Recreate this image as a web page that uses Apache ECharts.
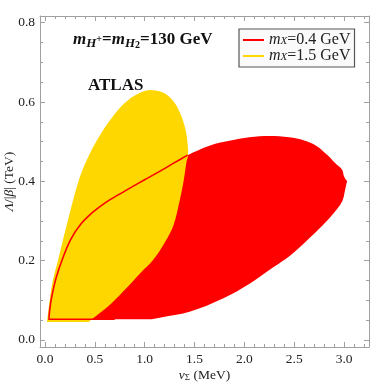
<!DOCTYPE html>
<html>
<head>
<meta charset="utf-8">
<script src="https://cdn.jsdelivr.net/npm/echarts@6/dist/echarts.min.js"></script>
<style>
  html, body { margin: 0; padding: 0; background: #fff; }
  #chart { width: 371px; height: 383px; }
</style>
</head>
<body>
<div id="chart"></div>
<script>
// region for m_X = 0.4 GeV (red), traced [v_Sigma, Lambda/|beta|]
// repeated points mark the sharp corners
const redRegion = [
  [0.04, 0.052], [0.04, 0.052], [1.07, 0.052], [1.07, 0.052], [1.15, 0.056], [1.45, 0.071],
  [1.79, 0.105], [2.06, 0.143], [2.29, 0.183], [2.46, 0.213], [2.62, 0.249], [2.75, 0.280],
  [2.88, 0.315], [2.98, 0.349], [3.01, 0.378], [3.03, 0.400], [3.03, 0.400], [3.00, 0.412],
  [2.98, 0.429], [2.91, 0.446], [2.83, 0.467], [2.72, 0.490], [2.60, 0.503],
  [2.45, 0.511], [2.25, 0.514], [2.05, 0.511], [1.85, 0.502], [1.65, 0.490],
  [1.43, 0.466], [1.30, 0.447], [1.15, 0.425], [1.00, 0.404], [0.86, 0.384],
  [0.73, 0.365], [0.60, 0.345], [0.48, 0.322], [0.36, 0.292], [0.26, 0.254],
  [0.18, 0.207], [0.11, 0.155], [0.065, 0.105], [0.045, 0.070]
];

// outline of the red region drawn on top of the yellow one
const redEdge = [
  [1.43, 0.466], [1.30, 0.447], [1.15, 0.425], [1.00, 0.404], [0.86, 0.384],
  [0.73, 0.365], [0.60, 0.345], [0.48, 0.322], [0.36, 0.292], [0.26, 0.254],
  [0.18, 0.207], [0.11, 0.155], [0.065, 0.105], [0.045, 0.070], [0.04, 0.052],
  [0.04, 0.052], [0.70, 0.052], [0.70, 0.052]
];

// region for m_X = 1.5 GeV (yellow)
const yellowRegion = [
  [0.02, 0.045], [0.02, 0.045], [0.047, 0.100], [0.08, 0.151], [0.13, 0.200], [0.18, 0.252],
  [0.23, 0.302], [0.29, 0.360], [0.36, 0.418], [0.46, 0.475], [0.565, 0.522],
  [0.70, 0.570], [0.83, 0.604], [0.97, 0.625], [1.07, 0.630], [1.20, 0.622],
  [1.30, 0.598], [1.37, 0.563], [1.41, 0.530], [1.43, 0.496], [1.435, 0.466],
  [1.42, 0.450], [1.39, 0.400], [1.35, 0.350], [1.29, 0.290], [1.20, 0.245],
  [1.08, 0.200], [0.97, 0.172], [0.83, 0.134], [0.665, 0.092], [0.46, 0.050],
  [0.44, 0.045], [0.44, 0.045]
];

const legendNames = ['mX=0.4 GeV', 'mX=1.5 GeV'];
const xMajor = [0, 0.5, 1.0, 1.5, 2.0, 2.5, 3.0];
const xMinor = [0.1, 0.2, 0.3, 0.4, 0.6, 0.7, 0.8, 0.9, 1.1, 1.2, 1.3, 1.4, 1.6, 1.7, 1.8, 1.9,
  2.1, 2.2, 2.3, 2.4, 2.6, 2.7, 2.8, 2.9, 3.1, 3.2];
const yMajor = [0, 0.2, 0.4, 0.6, 0.8];
const yMinor = [0.05, 0.1, 0.15, 0.25, 0.3, 0.35, 0.45, 0.5, 0.55, 0.65, 0.7, 0.75];

const RED = '#ff0000';
const YELLOW = '#ffd700';
const FRAME = '#a0a0a0';
const SERIF = '"Liberation Serif", "DejaVu Serif", serif';

const xRange = { min: -0.05, max: 3.25 };
const yRange = { min: -0.018, max: 0.817 };

function shapeSeries(name, shapeType, points, color, z) {
  return {
    name: name,
    type: 'custom',
    z: z,
    silent: true,
    itemStyle: { color: color },
    data: [0],
    renderItem: function (params, api) {
      const pts = points.map(p => api.coord(p));
      if (shapeType === 'polygon') {
        return { type: 'polygon', shape: { points: pts, smooth: 0.35 }, style: { fill: color } };
      }
      return {
        type: 'polyline', shape: { points: pts, smooth: 0.35 },
        style: { stroke: color, lineWidth: 1.6, fill: null }
      };
    }
  };
}

function xAx(pos, ticks, len, labels) {
  return {
    type: 'value', position: pos, ...xRange,
    splitLine: { show: false },
    axisLine: { show: labels, onZero: false, lineStyle: { color: FRAME, width: 1 } },
    axisTick: { show: true, inside: true, length: len, customValues: ticks, lineStyle: { color: FRAME } },
    axisLabel: labels ? {
      customValues: ticks, margin: 5, color: '#222', fontFamily: SERIF, fontSize: 13.5,
      formatter: v => v.toFixed(1)
    } : { show: false }
  };
}

function yAx(pos, ticks, len, labels) {
  return {
    type: 'value', position: pos, ...yRange,
    splitLine: { show: false },
    axisLine: { show: labels, onZero: false, lineStyle: { color: FRAME, width: 1 } },
    axisTick: { show: true, inside: true, length: len, customValues: ticks, lineStyle: { color: FRAME } },
    axisLabel: labels ? {
      customValues: ticks, margin: 5, color: '#222', fontFamily: SERIF, fontSize: 13.5,
      formatter: v => v.toFixed(1)
    } : { show: false }
  };
}

const bottomX = xAx('bottom', xMajor, 5, true);
bottomX.name = '{i|v}{s|Σ} (MeV)';
bottomX.nameLocation = 'middle';
bottomX.nameGap = 21;
bottomX.nameMoveOverlap = false;
bottomX.nameTextStyle = {
  color: '#222', fontFamily: SERIF, fontSize: 13.5,
  rich: {
    i: { fontFamily: SERIF, fontStyle: 'italic', fontSize: 13.5, color: '#222' },
    s: { fontFamily: SERIF, fontSize: 9, color: '#222', verticalAlign: 'bottom', lineHeight: 10 }
  }
};
const topX = xAx('top', xMajor, 5, true);
topX.axisLabel = { show: false };

const leftY = yAx('left', yMajor, 5, true);
leftY.name = '{i|Λ}/|{i|β}| (TeV)';
leftY.nameLocation = 'middle';
leftY.nameGap = 24;
leftY.nameMoveOverlap = false;
leftY.nameTextStyle = {
  color: '#222', fontFamily: SERIF, fontSize: 13.5,
  rich: { i: { fontFamily: SERIF, fontStyle: 'italic', fontSize: 13.5, color: '#222' } }
};
const rightY = yAx('right', yMajor, 5, true);
rightY.axisLabel = { show: false };

const option = {
  animation: false,
  backgroundColor: '#fff',
  grid: { left: 40, top: 16, right: 2, bottom: 36, containLabel: false, outerBoundsMode: 'none' },
  xAxis: [bottomX, xAx('bottom', xMinor, 3, false), topX, xAx('top', xMinor, 3, false)],
  yAxis: [leftY, yAx('left', yMinor, 3, false), rightY, yAx('right', yMinor, 3, false)],
  legend: {
    left: 239, top: 29,
    orient: 'vertical',
    padding: [3, 4, 3, 4],
    itemGap: 0,
    itemWidth: 21, itemHeight: 2,
    icon: 'rect',
    backgroundColor: '#fafafa',
    borderColor: '#555', borderWidth: 1.2,
    selectedMode: false,
    data: [
      { name: legendNames[0], itemStyle: { color: RED } },
      { name: legendNames[1], itemStyle: { color: YELLOW } }
    ],
    formatter: name => '{i|m}{s|X}{t|' + name.slice(2) + '}',
    textStyle: {
      fontFamily: SERIF, fontSize: 16, color: '#222', lineHeight: 14,
      rich: {
        i: { fontFamily: SERIF, fontStyle: 'italic', fontSize: 16, color: '#222', lineHeight: 14 },
        s: { fontFamily: SERIF, fontStyle: 'italic', fontSize: 11, color: '#222', lineHeight: 9, verticalAlign: 'bottom' },
        t: { fontFamily: SERIF, fontSize: 16, color: '#222', lineHeight: 14 }
      }
    }
  },
  graphic: [
    {
      type: 'text', left: 73, top: 31, z: 10,
      style: {
        text: '{m|m}{s|H}{p|+}{n|=}{m|m}{s|H}{q|2}{n|=130 GeV}',
        fontFamily: SERIF, fontWeight: 'bold', fontSize: 17, fill: '#111',
        rich: {
          m: { fontFamily: SERIF, fontWeight: 'bold', fontStyle: 'italic', fontSize: 17, lineHeight: 21, color: '#111' },
          n: { fontFamily: SERIF, fontWeight: 'bold', fontSize: 17, lineHeight: 21, color: '#111' },
          s: { fontFamily: SERIF, fontWeight: 'bold', fontStyle: 'italic', fontSize: 13, lineHeight: 14, verticalAlign: 'bottom', color: '#111' },
          p: { fontFamily: SERIF, fontWeight: 'bold', fontSize: 10, lineHeight: 21, color: '#111' },
          q: { fontFamily: SERIF, fontWeight: 'bold', fontSize: 10, lineHeight: 8, verticalAlign: 'bottom', color: '#111' }
        }
      }
    },
    {
      type: 'text', left: 88, top: 77, z: 10,
      style: { text: 'ATLAS', fontFamily: SERIF, fontWeight: 'bold', fontSize: 17, fill: '#111' }
    }
  ],
  series: [
    shapeSeries(legendNames[0], 'polygon', redRegion, RED, 2),
    shapeSeries(legendNames[1], 'polygon', yellowRegion, YELLOW, 3),
    shapeSeries('edge', 'polyline', redEdge, RED, 4)
  ]
};

const chart = echarts.init(document.getElementById('chart'), null, { renderer: 'canvas' });
chart.setOption(option);
</script>
</body>
</html>
